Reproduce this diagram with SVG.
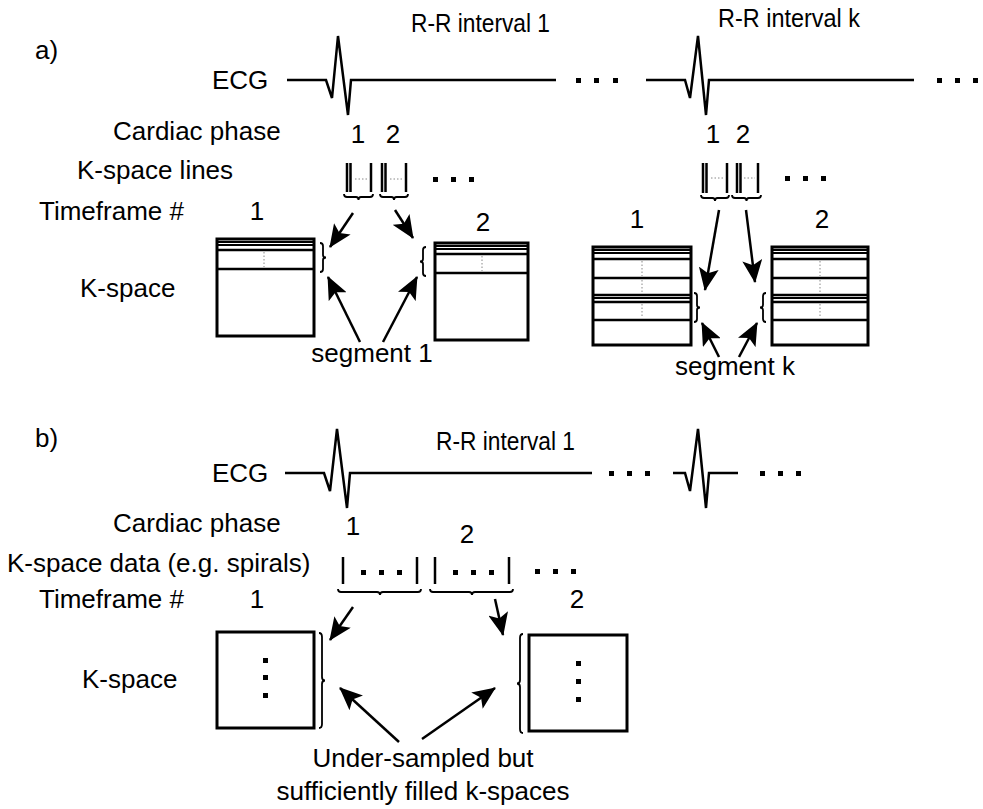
<svg xmlns="http://www.w3.org/2000/svg" width="983" height="809" viewBox="0 0 983 809">
<defs>
<style>
.t{font-family:"Liberation Sans",Arial,sans-serif;font-size:26px;fill:#000}
.s{font-size:25px}
.m{text-anchor:middle}
.ecg{stroke:#000;stroke-width:2.5;fill:none;stroke-linejoin:miter}
.box{stroke:#000;stroke-width:3;fill:#fff}
.hl{stroke:#000;stroke-width:2.5}
.hl2{stroke:#000;stroke-width:1.8}
.dt{stroke:#888;stroke-width:1;stroke-dasharray:1.5 2}
.br{stroke:#000;stroke-width:1.8;fill:none}
.bar{stroke:#000;stroke-width:2.5}
.arr{stroke:#000;stroke-width:2.5;fill:none;marker-end:url(#ah)}
</style>
<marker id="ah" markerUnits="userSpaceOnUse" markerWidth="24" markerHeight="20" refX="22" refY="10" orient="auto">
<path d="M0,0 L23,10 L0,20 L5,10 z" fill="#000"/>
</marker>
</defs>
<rect width="983" height="809" fill="#fff"/>

<g id="labels-a">
<text class="t" x="35" y="59">a)</text>
<text class="t" x="212" y="89">ECG</text>
<text class="t" x="113" y="140">Cardiac phase</text>
<text class="t" x="77" y="179">K-space lines</text>
<text class="t" x="39" y="220">Timeframe #</text>
<text class="t" x="80" y="297">K-space</text>
<text class="t s" x="411" y="32" textLength="139" lengthAdjust="spacingAndGlyphs">R-R interval 1</text>
<text class="t s" x="718" y="27" textLength="142" lengthAdjust="spacingAndGlyphs">R-R interval k</text>
</g>

<g id="ecg-a">
<path class="ecg" d="M287,80 L326,80 L332,98 L338,36 L348,115 L351,80 L556,80"/>
<rect x="576" y="78" width="5" height="5"/><rect x="594" y="78" width="5" height="5"/><rect x="613" y="78" width="5" height="5"/>
<path class="ecg" d="M646,80 L685,80 L690,98 L698,36 L706,115 L709,80 L914,80"/>
<rect x="937" y="78" width="5" height="5"/><rect x="955" y="78" width="5" height="5"/><rect x="973" y="78" width="5" height="5"/>
</g>

<g id="phase-a">
<text class="t m" x="358" y="143">1</text>
<text class="t m" x="393" y="143">2</text>
<text class="t m" x="713" y="143">1</text>
<text class="t m" x="743" y="143">2</text>
</g>

<g id="lines-a-left">
<line class="bar" x1="347" y1="163" x2="347" y2="192"/><line class="bar" x1="350.5" y1="163" x2="350.5" y2="192"/>
<line class="dt" x1="355" y1="179" x2="368" y2="179"/>
<line class="bar" x1="371" y1="163" x2="371" y2="192"/>
<line class="bar" x1="382" y1="163" x2="382" y2="192"/><line class="bar" x1="385.5" y1="163" x2="385.5" y2="192"/>
<line class="dt" x1="390" y1="179" x2="403" y2="179"/>
<line class="bar" x1="406" y1="163" x2="406" y2="192"/>
<path class="br" d="M344,194 Q344,197 347,197 L356,197 Q358.5,197 358.5,200 Q358.5,197 361,197 L370,197 Q373,197 373,194"/>
<path class="br" d="M380,194 Q380,197 383,197 L391.5,197 Q394,197 394,200 Q394,197 396.5,197 L405,197 Q408,197 408,194"/>
<rect x="433" y="177" width="5" height="5"/><rect x="451" y="177" width="5" height="5"/><rect x="469" y="177" width="5" height="5"/>
</g>

<g id="lines-a-right">
<line class="bar" x1="703" y1="163" x2="703" y2="193"/><line class="bar" x1="706.5" y1="163" x2="706.5" y2="193"/>
<line class="dt" x1="711" y1="178" x2="723" y2="178"/>
<line class="bar" x1="727" y1="163" x2="727" y2="193"/>
<line class="bar" x1="737" y1="163" x2="737" y2="193"/><line class="bar" x1="740.5" y1="163" x2="740.5" y2="193"/>
<line class="dt" x1="744" y1="178" x2="755" y2="178"/>
<line class="bar" x1="758" y1="163" x2="758" y2="193"/>
<path class="br" d="M701,195 Q701,198 704,198 L712.5,198 Q715,198 715,201 Q715,198 717.5,198 L726,198 Q729,198 729,195"/>
<path class="br" d="M732,195 Q732,198 735,198 L744,198 Q746.5,198 746.5,201 Q746.5,198 749,198 L758,198 Q761,198 761,195"/>
<rect x="785" y="176" width="5" height="5"/><rect x="803" y="176" width="5" height="5"/><rect x="821" y="176" width="5" height="5"/>
</g>

<g id="tf-a">
<text class="t m" x="257" y="220">1</text>
<text class="t m" x="483" y="231">2</text>
<text class="t m" x="637" y="228">1</text>
<text class="t m" x="822" y="228">2</text>
</g>

<g id="kspace-a1">
<rect class="box" x="217" y="239" width="97" height="97"/>
<line class="hl2" x1="217" y1="242" x2="314" y2="242"/>
<line class="hl2" x1="217" y1="245" x2="314" y2="245"/>
<line class="hl" x1="217" y1="250" x2="314" y2="250"/>
<line class="hl" x1="217" y1="269" x2="314" y2="269"/>
<line class="dt" x1="264" y1="252" x2="264" y2="267"/>
<path class="br" d="M320,243 Q323,243 323,246 L323,255 Q323,257.5 326,257.5 Q323,257.5 323,260 L323,269 Q323,272 320,272"/>
</g>

<g id="kspace-a2">
<rect class="box" x="435" y="243" width="93" height="97"/>
<line class="hl2" x1="435" y1="246" x2="528" y2="246"/>
<line class="hl2" x1="435" y1="249" x2="528" y2="249"/>
<line class="hl" x1="435" y1="254" x2="528" y2="254"/>
<line class="hl" x1="435" y1="273" x2="528" y2="273"/>
<line class="dt" x1="482" y1="256" x2="482" y2="271"/>
<path class="br" d="M426,247 Q423,247 423,250 L423,259 Q423,261.5 420,261.5 Q423,261.5 423,264 L423,273 Q423,276 426,276"/>
</g>

<g id="kspace-ak1">
<rect class="box" x="593" y="247" width="98" height="98"/>
<line class="hl2" x1="593" y1="250" x2="691" y2="250"/>
<line class="hl2" x1="593" y1="253" x2="691" y2="253"/>
<line class="hl" x1="593" y1="259" x2="691" y2="259"/>
<line class="hl" x1="593" y1="278" x2="691" y2="278"/>
<line class="hl" x1="593" y1="295" x2="691" y2="295"/>
<line class="hl2" x1="593" y1="298" x2="691" y2="298"/>
<line class="hl" x1="593" y1="302" x2="691" y2="302"/>
<line class="hl" x1="593" y1="320" x2="691" y2="320"/>
<line class="dt" x1="642" y1="261" x2="642" y2="276"/>
<line class="dt" x1="642" y1="280" x2="642" y2="293"/>
<line class="dt" x1="642" y1="304" x2="642" y2="318"/>
<path class="br" d="M694,293 Q697,293 697,296 L697,305 Q697,307.5 700,307.5 Q697,307.5 697,310 L697,319 Q697,322 694,322"/>
</g>

<g id="kspace-ak2">
<rect class="box" x="772" y="247" width="96" height="98"/>
<line class="hl2" x1="772" y1="250" x2="868" y2="250"/>
<line class="hl2" x1="772" y1="253" x2="868" y2="253"/>
<line class="hl" x1="772" y1="259" x2="868" y2="259"/>
<line class="hl" x1="772" y1="278" x2="868" y2="278"/>
<line class="hl" x1="772" y1="295" x2="868" y2="295"/>
<line class="hl2" x1="772" y1="298" x2="868" y2="298"/>
<line class="hl" x1="772" y1="302" x2="868" y2="302"/>
<line class="hl" x1="772" y1="320" x2="868" y2="320"/>
<line class="dt" x1="820" y1="261" x2="820" y2="276"/>
<line class="dt" x1="820" y1="280" x2="820" y2="293"/>
<line class="dt" x1="820" y1="304" x2="820" y2="318"/>
<path class="br" d="M766,293 Q763,293 763,296 L763,305 Q763,307.5 760,307.5 Q763,307.5 763,310 L763,319 Q763,322 766,322"/>
</g>

<g id="seg-labels-a">
<text class="t m" x="372" y="362">segment 1</text>
<text class="t m" x="735" y="375">segment k</text>
</g>

<g id="labels-b">
<text class="t" x="35" y="447">b)</text>
<text class="t" x="212" y="482">ECG</text>
<text class="t" x="113" y="532">Cardiac phase</text>
<text class="t" x="7" y="572">K-space data (e.g. spirals)</text>
<text class="t" x="39" y="608">Timeframe #</text>
<text class="t" x="82" y="688">K-space</text>
<text class="t s" x="436" y="450" textLength="139" lengthAdjust="spacingAndGlyphs">R-R interval 1</text>
<text class="t m" x="353" y="535">1</text>
<text class="t m" x="467" y="543">2</text>
<text class="t m" x="257" y="608">1</text>
<text class="t m" x="577" y="608">2</text>
<text class="t m" x="423" y="767">Under-sampled but</text>
<text class="t m" x="423" y="800">sufficiently filled k-spaces</text>
</g>

<g id="ecg-b">
<path class="ecg" d="M285,473 L324,473 L330,491 L337,429 L347,508 L350,473 L592,473"/>
<rect x="609" y="471" width="5" height="5"/><rect x="627" y="471" width="5" height="5"/><rect x="645" y="471" width="5" height="5"/>
<path class="ecg" d="M673,473 L685,473 L690,491 L698,429 L706,508 L709,473 L738,473"/>
<rect x="760" y="471" width="5" height="5"/><rect x="778" y="471" width="5" height="5"/><rect x="796" y="471" width="5" height="5"/>
</g>

<g id="data-b">
<line class="bar" x1="343" y1="557" x2="343" y2="584"/>
<rect x="361" y="570" width="5" height="5"/><rect x="379" y="570" width="5" height="5"/><rect x="397" y="570" width="5" height="5"/>
<line class="bar" x1="417" y1="557" x2="417" y2="584"/>
<line class="bar" x1="435" y1="557" x2="435" y2="584"/>
<rect x="453" y="570" width="5" height="5"/><rect x="471" y="570" width="5" height="5"/><rect x="489" y="570" width="5" height="5"/>
<line class="bar" x1="509" y1="557" x2="509" y2="584"/>
<rect x="535" y="569" width="5" height="5"/><rect x="553" y="569" width="5" height="5"/><rect x="571" y="569" width="5" height="5"/>
<path class="br" d="M338,589 Q338,592 341,592 L377,592 Q380,592 380,595 Q380,592 383,592 L418,592 Q421,592 421,589"/>
<path class="br" d="M430,589 Q430,592 433,592 L469,592 Q472,592 472,595 Q472,592 475,592 L510,592 Q513,592 513,589"/>
</g>

<g id="kspace-b1">
<rect class="box" x="217" y="632" width="97" height="96"/>
<rect x="263" y="658" width="5" height="5"/><rect x="263" y="675" width="5" height="5"/><rect x="263" y="693" width="5" height="5"/>
<path class="br" d="M319,633 Q322,633 322,637 L322,677 Q322,680.5 325,680.5 Q322,680.5 322,684 L322,724 Q322,728 319,728"/>
</g>

<g id="kspace-b2">
<rect class="box" x="529" y="635" width="98" height="96"/>
<rect x="576" y="661" width="5" height="5"/><rect x="576" y="679" width="5" height="5"/><rect x="576" y="697" width="5" height="5"/>
<path class="br" d="M523,634 Q520,634 520,638 L520,680 Q520,683.5 517,683.5 Q520,683.5 520,687 L520,729 Q520,733 523,733"/>
</g>

<g id="connectors">
<line class="arr" x1="353" y1="213" x2="330" y2="247"/>
<line class="arr" x1="395" y1="210" x2="413" y2="238"/>
<line class="arr" x1="360" y1="342" x2="328" y2="277"/>
<line class="arr" x1="383" y1="342" x2="417" y2="277"/>
<line class="arr" x1="719" y1="210" x2="705" y2="290"/>
<line class="arr" x1="746" y1="210" x2="755" y2="282"/>
<line class="arr" x1="719" y1="357" x2="702" y2="323"/>
<line class="arr" x1="739" y1="357" x2="757" y2="323"/>
<line class="arr" x1="353" y1="607" x2="330" y2="640"/>
<line class="arr" x1="495" y1="599" x2="503" y2="635"/>
<line class="arr" x1="399" y1="742" x2="340" y2="688"/>
<line class="arr" x1="422" y1="739" x2="495" y2="688"/>
</g>
</svg>
